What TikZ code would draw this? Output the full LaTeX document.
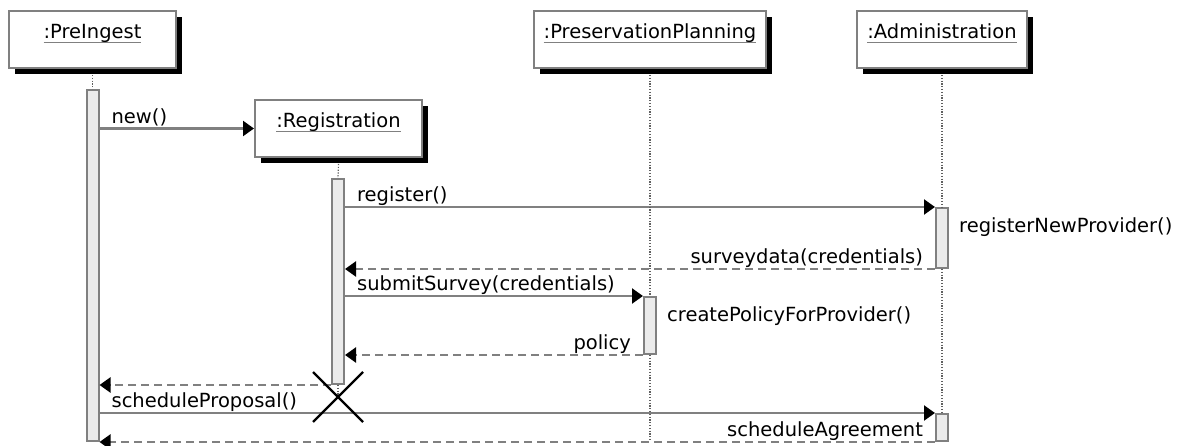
\documentclass[tikz,border=0pt]{standalone}
\usepackage{fontspec}
\setmainfont{DejaVu Sans}
\usetikzlibrary{arrows.meta,shadows,positioning}
\definecolor{linegray}{HTML}{808080}
\definecolor{dotgray}{HTML}{606060}
\definecolor{barfill}{HTML}{EBEBEB}
\newcommand{\objname}[1]{\setbox0\hbox{#1}\rlap{\textcolor{linegray}{\rule[-4.5pt]{\wd0}{1.8pt}}}\box0}

\begin{document}
\begin{tikzpicture}[x=1pt,y=1pt,
  every node/.style={font=\fontsize{19.5}{23}\selectfont},
  object/.style={draw=linegray,line width=2pt,fill=white,minimum width=167pt,
    inner xsep=10pt,inner ysep=0pt,text height=28pt,text depth=29pt,anchor=north,
    drop shadow={shadow xshift=6pt,shadow yshift=-6pt,fill=black,opacity=1}},
  activation/.style={draw=linegray,line width=2pt,fill=barfill,minimum width=12pt,
    inner sep=0pt,anchor=north},
  msg/.style={draw=linegray,line width=2.2pt,-{Triangle[length=11pt,width=15pt,color=black]}},
  ret/.style={msg,dash pattern=on 8pt off 5pt},
  life/.style={draw=dotgray,line width=1.2pt,dash pattern=on 1.2pt off 1.6pt},
  kill/.style={draw=black,line width=2.2pt},
  flbl/.style={pos=0,anchor=base west,xshift=11pt,yshift=5pt,inner sep=0pt},
  rlbl/.style={pos=0,anchor=base east,xshift=-11pt,yshift=5pt,inner sep=0pt},
  note/.style={anchor=base west,inner sep=0pt}]
\useasboundingbox (0,0) rectangle (1187,-446);

\node[object] (pre) at (92.5,-10) {\objname{:PreIngest}};
\node[object] (reg) at (338.5,-99) {\objname{:Registration}};
\node[object] (pp) at (650,-10) {\objname{:PreservationPlanning}};
\node[object] (adm) at (942,-10) {\objname{:Administration}};

\node[activation,minimum height=351pt] (preBar) at (92.5,-89) {};
\node[activation,minimum height=205pt] (regBar) at (338,-178) {};
\node[activation,minimum height=60pt] (admBarA) at (942,-207) {};
\node[activation,minimum height=57pt] (ppBar) at (650,-296) {};
\node[activation,minimum height=27pt] (admBarB) at (942,-413) {};
\coordinate (regEnd) at (338,-397);
\coordinate (ppEnd) at (650,-441);

\draw[msg] (preBar.east |- reg.west) -- (reg.west) node[flbl] (lblNew) {new()};
\draw[msg] (regBar.east |- admBarA.north) -- (admBarA.north west) node[flbl] (lblRegister) {register()};
\node[note] (lblNewProvider) at ([shift={(10,-26)}]admBarA.north east) {registerNewProvider()};
\draw[ret] (admBarA.south west) -- (regBar.east |- admBarA.south) node[rlbl] (lblSurvey) {surveydata(credentials)};
\draw[msg] (regBar.east |- ppBar.north) -- (ppBar.north west) node[flbl] (lblSubmit) {submitSurvey(credentials)};
\node[note] (lblCreatePolicy) at ([shift={(10,-26)}]ppBar.north east) {createPolicyForProvider()};
\draw[ret] (ppBar.south west) -- (regBar.east |- ppBar.south) node[rlbl] (lblPolicy) {policy};
\draw[ret] (regBar.south west) -- (preBar.east |- regBar.south);
\draw[msg] (preBar.east |- admBarB.north) -- (admBarB.north west) node[flbl] (lblProposal) {scheduleProposal()};
\draw[ret] (admBarB.south west) -- (preBar.south east) node[rlbl] (lblAgreement) {scheduleAgreement};

\draw[life] ([yshift=-6pt]pre.south) -- (preBar.north);
\draw[life] ([yshift=-6pt]reg.south) -- (regBar.north);
\draw[life] (regBar.south) -- (regEnd);
\draw[life] ([yshift=-6pt]pp.south) -- (ppBar.north);
\draw[life] (ppBar.south) -- (ppEnd);
\draw[life] ([yshift=-6pt]adm.south) -- (admBarA.north);
\draw[life] (admBarA.south) -- (admBarB.north);

\draw[kill] ([shift={(-25,25)}]regEnd) -- ([shift={(25,-25)}]regEnd);
\draw[kill] ([shift={(-25,-25)}]regEnd) -- ([shift={(25,25)}]regEnd);
\end{tikzpicture}
\end{document}
